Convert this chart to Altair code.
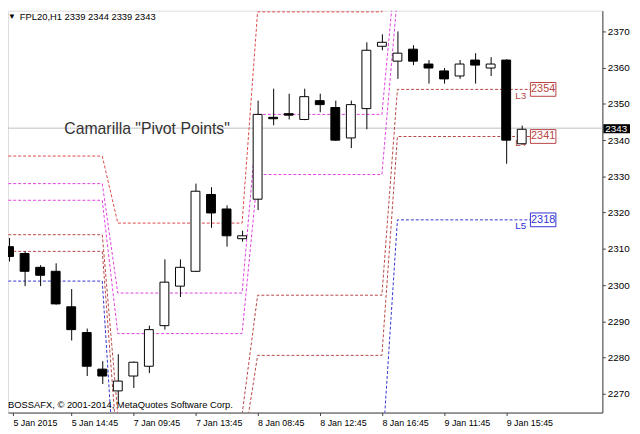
import json
import altair as alt
import pandas as pd

# ---- candle data (hourly bars, index k) ----
bar_k = list(range(34))
opens = [2310.6, 2308.7, 2304.9, 2303.8, 2294.0, 2286.9, 2276.8, 2270.8, 2274.9, 2277.6,
         2288.8, 2299.7, 2303.8, 2325.0, 2321.0, 2312.8, 2323.7, 2346.3, 2347.3, 2345.7,
         2350.9, 2349.0, 2340.6, 2348.7, 2365.9, 2361.8, 2365.1, 2361.0, 2359.1, 2357.7,
         2362.1, 2359.9, 2362.1, 2339.0]
highs = [2313.0, 2309.3, 2305.5, 2306.0, 2298.9, 2288.0, 2279.0, 2280.9, 2278.9, 2288.8,
         2307.1, 2307.1, 2328.0, 2327.0, 2322.0, 2315.0, 2350.9, 2354.2, 2352.8, 2354.2,
         2352.8, 2350.9, 2350.9, 2367.0, 2369.2, 2370.0, 2366.2, 2362.1, 2359.9, 2362.1,
         2364.0, 2362.9, 2362.3, 2344.0]
lows = [2306.5, 2299.7, 2299.7, 2294.6, 2284.7, 2274.9, 2272.7, 2267.5, 2271.6, 2275.7,
        2287.7, 2296.7, 2303.6, 2315.8, 2310.6, 2312.0, 2320.7, 2344.1, 2345.7, 2345.5,
        2347.7, 2339.8, 2337.8, 2343.0, 2364.8, 2356.9, 2360.7, 2355.6, 2355.6, 2356.9,
        2355.6, 2357.7, 2333.5, 2339.0]
closes = [2307.9, 2303.8, 2302.7, 2294.8, 2287.7, 2277.6, 2274.9, 2273.5, 2278.7, 2287.7,
          2300.8, 2304.9, 2325.9, 2319.9, 2313.6, 2313.6, 2347.1, 2345.9, 2346.9, 2352.0,
          2349.8, 2340.0, 2349.8, 2364.8, 2367.0, 2364.0, 2361.8, 2359.9, 2356.9, 2361.0,
          2360.7, 2361.0, 2340.0, 2343.0]

# ---- Camarilla levels per day ----
day_start = [-1, 7, 16, 25]
day_end = [6, 15, 24, 33.56]
level_names = ["H5", "H4", "H3", "L3", "L4", "L5"]
H5 = [2335.6, 2317.1, 2375.4, 2416.0]
H4 = [2328.0, 2297.8, 2347.1, 2393.0]
H3 = [2323.4, 2286.6, 2330.5, 2380.0]
L3 = [2313.9, 2264.2, 2297.2, 2354.0]
L4 = [2309.3, 2253.0, 2280.6, 2341.0]
L5 = [2301.1, 2233.7, 2252.4, 2318.0]
level_colors = ["#e04646", "#e040e0", "#e040e0", "#b84444", "#b84444", "#3232d2"]

# last-day labels
lab_names = ["L3", "L4", "L5"]
lab_values = [2354.0, 2341.0, 2318.0]
lab_text = ["2354", "2341", "2318"]
lab_colors = ["#b84444", "#b84444", "#3232d2"]

current_price = 2343.3

xt_vals = [0.25, 4, 8, 12, 16, 20, 24, 28, 32]
xt_labels = ["5 Jan 2015", "5 Jan 14:45", "7 Jan 09:45", "7 Jan 13:45", "8 Jan 08:45",
             "8 Jan 12:45", "8 Jan 16:45", "9 Jan 11:45", "9 Jan 15:45"]
yt_vals = list(range(2270, 2371, 10))

FONT = "Liberation Sans"

# ---- frames ----
candles = pd.DataFrame({"k": bar_k, "o": opens, "h": highs, "l": lows, "c": closes})

rows = []
series = {"H5": H5, "H4": H4, "H3": H3, "L3": L3, "L4": L4, "L5": L5}
for name in level_names:
    vals = series[name]
    order = 0
    for d in range(4):
        rows.append({"level": name, "k": day_start[d], "v": vals[d], "ord": order}); order += 1
        rows.append({"level": name, "k": day_end[d], "v": vals[d], "ord": order}); order += 1
pivots = pd.DataFrame(rows)

labels = pd.DataFrame({"name": lab_names, "v": lab_values, "t": lab_text, "col": lab_colors})
labels["v_lo"] = labels["v"] - 1.9
labels["v_hi"] = labels["v"] + 1.9
labels["v_name"] = labels["v"] - 1.8
labels["kx"] = 33.56
labels["kx2"] = 35.2
labels["kc"] = 34.38
labels["kn"] = 32.94

xs = alt.Scale(domain=[0.25, 37.875], nice=False, zero=False)
ys = alt.Scale(domain=[2264.82, 2375.72], nice=False, zero=False)

label_expr = "[" + ",".join("'%s'" % s for s in xt_labels) + "][indexof(" + json.dumps(xt_vals) + ", datum.value)]"

x_axis = alt.Axis(values=xt_vals, labelExpr=label_expr, labelAlign="left", labelFontSize=9,
                  labelFont=FONT, tickSize=3, labelPadding=3, grid=False, title=None,
                  domainColor="#404040", tickColor="#404040", labelColor="black",
                  labelFlush=False, labelOverlap=False, labelBaseline="top")
y_axis = alt.Axis(orient="right", values=yt_vals, format="d", labelFontSize=10, labelFont=FONT,
                  tickSize=3, labelPadding=2, grid=False, title=None,
                  domainColor="#404040", tickColor="#404040", labelColor="black",
                  labelOverlap=False, labelFlush=False)

base = alt.Chart(candles)

cur_line = alt.Chart(pd.DataFrame({"p": [current_price]})).mark_rule(
    color="#c0c0c0", strokeWidth=1).encode(
    y=alt.Y("p:Q", scale=ys, axis=y_axis))

pivot_lines = alt.Chart(pivots).mark_line(strokeDash=[3, 2], strokeWidth=1, clip=True).encode(
    x=alt.X("k:Q", scale=xs, axis=x_axis),
    y=alt.Y("v:Q", scale=ys, axis=y_axis),
    color=alt.Color("level:N", scale=alt.Scale(domain=level_names, range=level_colors), legend=None),
    detail="level:N",
    order="ord:Q",
)

lab_names_chart = alt.Chart(labels).mark_text(font=FONT, fontSize=10, align="center",
                                              baseline="middle").encode(
    x=alt.X("kn:Q", scale=xs), y=alt.Y("v_name:Q", scale=ys), text="name:N",
    color=alt.Color("col:N", scale=None))

lab_boxes = alt.Chart(labels).mark_rect(fill="white", strokeWidth=1).encode(
    x=alt.X("kx:Q", scale=xs), x2="kx2:Q",
    y=alt.Y("v_lo:Q", scale=ys), y2="v_hi:Q",
    stroke=alt.Color("col:N", scale=None))

lab_vals = alt.Chart(labels).mark_text(font=FONT, fontSize=11, align="center",
                                       baseline="middle").encode(
    x=alt.X("kc:Q", scale=xs), y=alt.Y("v:Q", scale=ys), text="t:N",
    color=alt.Color("col:N", scale=None))

wicks = base.mark_rule(color="black", strokeWidth=1, xOffset=0.5, clip=True).encode(
    x=alt.X("k:Q", scale=xs), y=alt.Y("l:Q", scale=ys), y2="h:Q")

bodies = base.mark_bar(size=9, stroke="black", strokeWidth=1, clip=True).encode(
    x=alt.X("k:Q", scale=xs), y=alt.Y("o:Q", scale=ys), y2="c:Q",
    fill=alt.condition("datum.c >= datum.o", alt.value("white"), alt.value("black")))

price_box = alt.Chart(pd.DataFrame({"a": [current_price + 1.1], "b": [current_price - 1.4]})).mark_rect(
    fill="black", clip=False).encode(
    x=alt.value(603), x2=alt.value(630), y=alt.Y("a:Q", scale=ys), y2="b:Q")
price_txt = alt.Chart(pd.DataFrame({"p": [current_price - 0.2], "t": ["2343"]})).mark_text(
    font=FONT, fontSize=10, color="white", align="left", baseline="middle", clip=False).encode(
    x=alt.value(605), y=alt.Y("p:Q", scale=ys), text="t:N")

def txt(s, x, y, size, color="black", baseline="middle"):
    return alt.Chart(pd.DataFrame({"t": [s]})).mark_text(
        font=FONT, fontSize=size, color=color, align="left", baseline=baseline).encode(
        x=alt.value(x), y=alt.value(y), text="t:N")

tri = txt("▼", 0, 6.5, 8)
title = txt("FPL20,H1  2339 2344 2339 2343", 12, 6.7, 9.5)
camarilla = txt('Camarilla "Pivot Points"', 57, 119.5, 16, color="#333333")
copyright_t = txt("BOSSAFX, © 2001-2014, MetaQuotes Software Corp.", 0, 399.5, 9.5)

chart = alt.layer(
    cur_line, camarilla, pivot_lines, lab_names_chart, lab_boxes, lab_vals,
    wicks, bodies, price_box, price_txt, tri, title, copyright_t
).properties(
    width=602, height=407,
    padding={"left": 0, "top": 0, "right": 30, "bottom": 19},
    autosize=alt.AutoSizeParams(type="none"),
).configure_view(stroke="#505050", strokeWidth=1).configure(background="white")

chart.save("out.html", embed_options={"renderer": "svg", "actions": False})
